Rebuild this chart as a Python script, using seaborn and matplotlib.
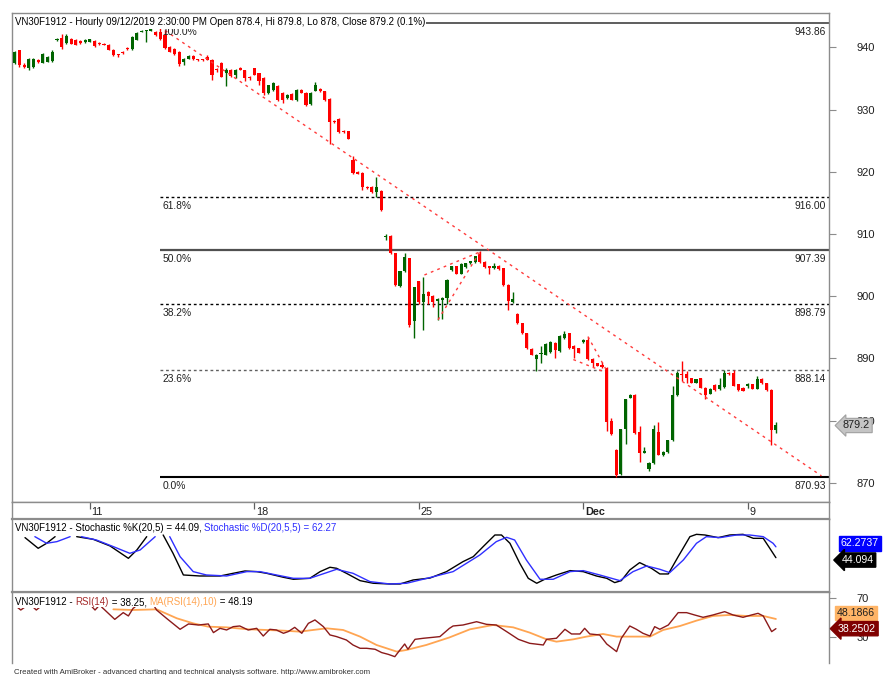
import numpy as np
import pandas as pd
import seaborn as sns
import matplotlib.pyplot as plt

# ---- hourly candles VN30F1912 ----
opens = [937.4, 939.5, 937.2, 936.6, 936.9, 938.0, 937.5, 937.7, 937.8, 941.1,
         941.5, 940.7, 941.4, 941.1, 941.0, 940.8, 940.9, 941.0, 940.7, 940.6,
         940.4, 939.6, 938.9, 939.3, 939.9, 939.7, 941.2, 942.5, 942.6, 942.7,
         942.5, 942.4, 942.0, 940.0, 939.8, 939.3, 937.6, 938.2, 938.6, 938.1,
         938.1, 938.4, 938.0, 936.5, 937.5, 935.9, 936.4, 935.6, 936.7, 936.3,
         935.3, 936.6, 935.8, 935.1, 932.7, 933.2, 933.8, 932.7, 931.9, 932.5,
         931.5, 933.2, 932.7, 930.9, 933.0, 933.3, 932.9, 931.7, 928.2, 928.5,
         926.6, 926.5, 921.9, 920.0, 919.8, 917.6, 917.6, 916.7, 916.9, 909.5,
         909.7, 906.9, 901.7, 904.0, 906.1, 896.0, 902.4, 899.0, 900.6, 900.0,
         899.2, 899.3, 899.7, 904.2, 904.8, 903.6, 904.7, 905.3, 905.5, 906.7,
         905.5, 904.8, 904.5, 904.9, 904.5, 901.8, 899.0, 897.2, 895.6, 894.0,
         891.5, 889.9, 890.7, 890.6, 891.0, 892.5, 891.1, 893.2, 894.0, 892.0,
         891.6, 892.6, 893.0, 889.9, 889.2, 888.9, 888.5, 879.9, 875.2, 871.4,
         878.7, 883.7, 884.1, 878.1, 874.8, 872.2, 873.1, 878.2, 874.4, 874.9,
         876.8, 884.1, 887.5, 887.4, 886.8, 886.1, 886.8, 885.3, 884.3, 885.7,
         885.0, 885.4, 887.7, 887.7, 885.8, 885.3, 885.5, 885.8, 885.1, 886.7,
         886.0, 884.9, 878.4]
highs = [939.4, 939.6, 937.5, 938.3, 938.3, 938.1, 939.1, 938.6, 939.5, 941.5,
         942.2, 942.2, 941.5, 941.3, 941.1, 941.3, 941.4, 941.1, 940.8, 940.7,
         940.5, 939.7, 939.0, 939.4, 940.0, 941.8, 942.4, 942.8, 942.8, 943.1,
         942.7, 943.86, 942.8, 940.2, 939.9, 939.4, 938.3, 938.7, 938.7, 938.2,
         938.2, 938.8, 938.1, 936.7, 937.6, 936.6, 936.5, 936.5, 936.8, 936.4,
         935.4, 936.7, 935.9, 935.2, 934.0, 934.4, 933.9, 932.8, 932.5, 932.6,
         933.3, 933.3, 932.8, 932.8, 934.4, 933.4, 933.0, 931.8, 928.3, 928.6,
         926.7, 926.6, 922.5, 920.1, 919.9, 917.7, 917.7, 919.1, 917.0, 910.0,
         909.8, 907.0, 904.1, 907.0, 906.2, 901.5, 902.5, 903.0, 900.8, 900.1,
         899.7, 899.8, 902.7, 904.9, 904.9, 905.3, 905.4, 905.7, 906.5, 907.2,
         905.6, 904.9, 905.4, 905.0, 904.6, 901.9, 900.6, 897.3, 895.7, 894.1,
         891.6, 890.7, 892.0, 892.4, 892.8, 892.6, 893.7, 894.4, 894.1, 892.1,
         891.7, 893.1, 893.5, 890.0, 889.3, 889.4, 888.6, 880.4, 875.4, 878.7,
         883.5, 884.2, 884.2, 879.1, 875.7, 873.3, 879.2, 879.8, 875.1, 876.9,
         885.6, 888.0, 889.5, 888.0, 886.9, 886.7, 886.9, 885.4, 885.2, 885.8,
         886.9, 888.1, 887.8, 888.2, 885.9, 885.4, 886.0, 885.9, 887.2, 886.8,
         886.1, 885.0, 879.8]
lows = [937.3, 936.9, 936.7, 936.3, 936.7, 937.5, 937.4, 937.6, 937.7, 941.0,
        939.8, 940.6, 940.5, 940.3, 940.6, 940.7, 940.8, 940.1, 940.4, 940.3,
        939.5, 938.6, 938.5, 939.0, 939.5, 939.6, 941.1, 942.4, 940.8, 942.6,
        941.9, 941.2, 939.8, 939.2, 938.7, 937.0, 937.1, 938.1, 938.0, 937.8,
        937.8, 937.9, 934.8, 936.0, 935.2, 933.8, 935.3, 935.0, 936.3, 934.6,
        934.7, 935.5, 933.9, 932.4, 932.5, 933.0, 931.3, 931.0, 931.7, 931.5,
        931.3, 932.6, 930.6, 930.7, 932.9, 932.8, 931.4, 924.5, 927.9, 926.3,
        926.3, 925.2, 919.7, 919.6, 917.0, 917.3, 916.6, 916.0, 913.7, 909.0,
        906.8, 901.6, 901.5, 903.9, 895.0, 893.3, 898.8, 894.6, 898.8, 898.2,
        896.2, 896.3, 898.7, 904.0, 903.5, 903.5, 904.6, 905.2, 905.4, 905.4,
        904.6, 903.5, 904.3, 904.2, 901.7, 897.7, 898.9, 895.5, 893.9, 891.5,
        890.5, 888.0, 889.2, 890.5, 890.9, 890.0, 891.0, 893.1, 891.5, 890.0,
        890.8, 892.5, 889.8, 888.6, 888.7, 888.5, 878.3, 877.7, 870.93, 871.2,
        876.2, 883.6, 877.9, 873.4, 874.7, 871.9, 873.0, 874.4, 874.3, 874.8,
        876.7, 884.0, 886.4, 886.0, 886.0, 886.0, 885.2, 883.5, 884.2, 884.8,
        884.9, 885.3, 887.3, 885.5, 884.8, 884.7, 885.2, 885.0, 885.0, 885.9,
        884.8, 876.0, 878.0]
closes = [939.3, 937.2, 936.8, 938.1, 938.2, 937.6, 939.0, 938.5, 939.3, 941.4,
          940.1, 941.8, 940.6, 940.4, 940.7, 941.2, 941.3, 940.2, 940.5, 940.4,
          939.6, 938.7, 938.7, 939.1, 939.7, 941.7, 942.3, 942.7, 942.7, 942.9,
          942.0, 941.4, 939.9, 939.3, 938.9, 937.3, 938.2, 938.6, 938.1, 937.9,
          937.9, 938.0, 935.6, 936.3, 935.3, 936.4, 935.4, 936.4, 936.4, 935.1,
          935.0, 935.6, 934.6, 932.6, 933.9, 934.3, 931.5, 931.5, 932.4, 931.6,
          933.2, 932.7, 930.8, 932.7, 934.0, 932.9, 931.5, 928.0, 928.0, 926.4,
          926.4, 925.3, 919.8, 919.7, 917.6, 917.4, 916.7, 917.5, 913.9, 909.7,
          906.9, 901.8, 904.0, 906.3, 895.3, 901.4, 899.0, 900.4, 900.0, 899.0,
          899.6, 899.7, 902.6, 904.8, 903.6, 905.2, 905.3, 905.6, 906.4, 905.5,
          904.7, 904.6, 904.9, 904.3, 901.8, 899.2, 899.5, 895.6, 894.0, 891.6,
          890.6, 890.6, 890.9, 892.3, 892.7, 891.4, 893.6, 893.9, 891.6, 891.5,
          890.9, 893.0, 889.9, 889.2, 888.8, 888.6, 879.8, 877.8, 871.3, 878.6,
          883.4, 884.1, 878.0, 874.7, 875.1, 873.2, 878.6, 874.5, 875.0, 876.8,
          884.1, 887.6, 887.3, 886.8, 886.1, 886.6, 885.3, 884.1, 885.1, 884.9,
          885.7, 887.6, 887.4, 885.6, 884.9, 884.8, 885.8, 885.1, 886.7, 886.0,
          884.9, 878.5, 879.2]

date_ticks = [16, 51, 86, 121, 156]
date_labels = ['11', '18', '25', 'Dec', '9']

fib_start = 31
fib_levels = [943.86, 916.00, 907.39, 898.79, 888.14, 870.93]
fib_names = ['100.0%', '61.8%', '50.0%', '38.2%', '23.6%', '0.0%']

# drawn trend lines: (bar, price) -> (bar, price)
trend_lines = [((32, 942.7), (171.7, 871.1)),
               ((87.2, 903.4), (99.0, 907.1)),
               ((90.1, 896.2), (99.0, 907.1)),
               ((122.0, 893.5), (126.0, 888.0)),
               ((118.9, 889.8), (125.2, 887.9))]

# ---- Stochastic (gaps = hidden under the pane title) ----
k_pos = [2.2, 5.0, 6.8, 8.6, None,
         13.2, 16.7, 20.3, 24.2, 26.0, 28.1, None,
         31.6, 33.7, 35.9, 39.4, 43.7, 46.5, 49.0, 51.5, 53.6, 57.2, 59.3, 62.8,
         65.0, 67.1, 68.5, 70.6, 73.5, 76.3, 79.8, 82.0, 84.8, 88.4, 91.9, 95.4,
         97.6, 99.7, 102.2, 103.6, 105.4, 107.5, 109.3, 111.1, 112.8, 115.3,
         118.2, 121.0, 123.8, 126.0, 127.7, 129.1, 130.9, 133.0, 135.5, 137.3,
         139.1, 141.2, 143.7, 145.1, 146.9, 149.7, 152.2, 155.0, 157.2, 159.3,
         160.7, 162.0]
k_val = [77.7, 59.8, 68.2, 79.3, None,
         79.3, 74.9, 63.7, 43.0, 57.0, 79.3, None,
         82.1, 51.4, 15.1, 13.4, 13.4, 17.9, 21.8, 20.7, 17.9, 11.2, 7.9, 9.5,
         20.7, 28.0, 26.3, 17.9, 5.6, 1.2, 0.0, 0.0, 6.7, 10.0, 20.7, 37.4,
         45.8, 62.6, 82.1, 82.1, 68.2, 34.6, 9.5, 1.2, 7.9, 15.1,
         22.4, 20.7, 13.4, 9.5, 2.3, 5.6, 23.5, 35.8, 26.3, 16.8,
         16.8, 45.8, 79.3, 83.2, 82.1, 77.7, 82.1, 83.2, 76.5, 76.5,
         59.8, 44.09]
d_pos = [4.3, 6.8, 9.0, 11.8, None,
         14.2, 17.4, 21.0, 24.5, 26.7, 29.9, None,
         33.0, 35.2, 38.0, 40.8, 45.1, 49.4, 52.2, 55.7, 59.3, 62.8, 66.4, 68.5,
         72.0, 75.6, 79.8, 83.4, 88.0, 93.3, 99.0, 102.5, 104.7, 106.4, 108.9,
         111.8, 114.6, 118.2, 121.0, 124.5, 128.8, 131.6, 134.5, 137.3, 139.4,
         142.3, 145.1, 147.2, 150.1, 153.6, 156.4, 159.3, 161.4, 162.0]
d_val = [79.3, 68.2, 71.0, 79.3, None,
         79.3, 73.7, 62.6, 51.4, 57.0, 79.3, None,
         79.3, 45.8, 20.7, 15.1, 13.4, 20.7, 20.7, 15.1, 9.5, 9.5, 19.0, 24.6,
         17.9, 4.0, 0.0, 1.2, 10.0, 20.7, 48.6, 71.0, 78.2, 73.7, 40.2,
         7.9, 7.9, 20.7, 22.4, 15.1, 5.6, 20.7, 30.2, 24.6, 19.0,
         40.2, 68.2, 79.3, 77.7, 82.1, 82.1, 79.3, 68.2, 62.27]

# ---- RSI(14) and its 10-bar MA ----
rsi_pos = [0.5, 1.3, 2.2, None, 3.9, 4.6, 5.4, None, 16.5, 17.1, 17.7, None,
           18.5, 21.3, 23.1, 24.2, 25.2, 25.6, None,
           29.8, 30.2, 32.3, 35.2, 37.0, 39.1, 41.2, 42.3, 43.7, 45.1, 46.5,
           47.9, 49.7, 51.5, 52.9, 54.3, 55.7, 57.2, 58.2, 59.6, 61.1, 62.5,
           63.9, 65.7, 67.1, 68.5, 70.6, 72.0, 73.5, 74.9, 76.7, 78.1, 79.5,
           80.9, 82.0, 83.0, 83.7, 85.2, 87.0, 89.1, 90.5, 92.5, 93.3, 95.4,
           98.3, 100.4, 102.5, 104.7, 107.2, 109.6, 112.5, 113.2, 115.3, 117.1,
           118.5, 120.3, 121.3, 122.4, 124.5, 126.0, 128.1, 129.1, 130.9, 132.3,
           133.7, 135.2, 136.2, 137.3, 139.1, 141.2, 143.0, 144.7, 146.5, 148.6,
           151.1, 152.9, 155.0, 156.8, 158.2, 159.3, 161.1, 162.0]
rsi_val = [60.5, 57.4, 60.5, None, 60.5, 57.4, 60.5, None, 60.5, 57.4, 60.5, None,
           60.5, 47.8, 54.7, 51.3, 59.1, 60.5, None,
           60.5, 57.4, 48.9, 37.6, 43.1, 42.0, 43.1, 34.2, 38.6, 36.9, 40.3,
           41.0, 36.9, 38.6, 30.7, 37.6, 36.9, 33.5, 35.2, 39.6, 33.5, 43.7,
           47.2, 40.3, 31.8, 30.1, 26.6, 21.5, 18.1, 18.1, 17.1, 13.7, 11.9,
           9.5, 16.4, 22.5, 17.1, 27.3, 28.4, 29.4, 30.1, 38.5, 41.0, 42.0,
           45.4, 42.7, 42.0, 35.2, 27.3, 23.2, 21.5, 27.3, 28.4, 37.6,
           32.8, 32.8, 38.6, 32.8, 31.8, 22.5, 14.7, 28.4, 41.0, 37.6,
           33.5, 30.7, 40.3, 37.6, 42.0, 54.7, 54.7, 52.3, 49.9, 52.3,
           55.7, 52.3, 49.9, 52.3, 54.0, 51.3, 35.2, 38.25]
ma_pos = [21.0, 25.2, 30.2, 34.5, 38.0, 41.2, 45.1, 49.7, 53.6, 57.2, 60.7,
          63.5, 66.4, 69.9, 73.5, 77.0, 81.3, 83.4, 87.6, 92.5, 96.9, 101.8,
          106.1, 109.6, 113.2, 115.3, 118.9, 121.7, 125.2, 128.1, 130.9, 135.2,
          138.0, 141.6, 145.1, 148.6, 152.2, 155.7, 159.3, 162.0]
ma_val = [58.1, 57.4, 58.1, 48.9, 43.7, 40.3, 39.6, 37.6, 36.9, 36.2, 35.2,
          36.9, 38.6, 36.9, 30.1, 21.5, 14.7, 16.4, 21.5, 29.2, 37.6, 42.0,
          39.6, 34.2, 27.3, 24.9, 27.3, 30.1, 32.8, 30.1, 30.1, 30.1,
          36.9, 41.0, 46.5, 51.3, 52.3, 51.3, 51.3, 48.19]


def segments(pos, val):
    df = pd.DataFrame({'pos': pd.array(pos, dtype='Float64'),
                       'val': pd.array(val, dtype='Float64')}).astype(float)
    df['seg'] = df['pos'].isna().cumsum()
    return df.dropna()


sns.set_theme(style="white")
plt.rcParams['font.family'] = ['Liberation Sans', 'DejaVu Sans']
plt.rcParams['axes.linewidth'] = 1.0

W, H = 883, 675
fig = plt.figure(figsize=(W / 100, H / 100), dpi=100)


def px_axes(x0, y0, x1, y1, **kw):
    return fig.add_axes([x0 / W, 1 - y1 / H, (x1 - x0) / W, (y1 - y0) / H], **kw)


ax_m = px_axes(12, 13.3, 829, 502)
ax_d = px_axes(12, 502, 829, 519, sharex=ax_m)
ax_s = px_axes(12, 519, 829, 591.5, sharex=ax_m)
ax_r = px_axes(12, 591.5, 829, 663, sharex=ax_m)

frame = '#8c8c8c'
for a in (ax_m, ax_d, ax_s, ax_r):
    a.set_facecolor('white')
    for s in a.spines.values():
        s.set_color(frame)
        s.set_linewidth(1.0)
    a.tick_params(axis='x', bottom=False, labelbottom=False)
ax_r.spines['bottom'].set_visible(False)
ax_s.spines['top'].set_linewidth(1.6)
ax_s.spines['bottom'].set_linewidth(1.6)

ax_m.set_xlim(-0.57, 173.3)

TXT = 7.0   # pane titles
LBL = 7.4   # labels on the chart

# ---- candles ----
o = np.array(opens)
h = np.array(highs)
l = np.array(lows)
c = np.array(closes)
idx = np.arange(len(c))
cols = np.where(c >= o, '#006400', '#ff0000')
ax_m.vlines(idx, l, h, colors=cols, linewidth=1.0, zorder=3)
body = np.maximum(np.abs(c - o), 0.15)
ax_m.bar(idx, body, bottom=np.minimum(o, c), width=0.66, color=cols,
         linewidth=0, zorder=3)
ax_m.set_ylim(866.9, 945.47)

# fibonacci levels
fib_styles = [('-', '#505050', 1.3), ((0, (2, 2)), 'black', 1.0),
              ('-', '#505050', 1.6), ((0, (2, 2)), 'black', 1.0),
              ((0, (2, 2)), '#606060', 1.0), ('-', 'black', 1.5)]
for lev, name, (ls, col, lw) in zip(fib_levels, fib_names, fib_styles):
    ax_m.hlines(lev, fib_start, 173.3, colors=col, linestyles=ls,
                linewidth=lw, zorder=2)
    ax_m.annotate(name, xy=(fib_start + 0.5, lev), xytext=(0, -3),
                  textcoords='offset points', ha='left', va='top',
                  fontsize=LBL, color='#202020', zorder=5)
    ax_m.annotate(f'{lev:.2f}', xy=(1, lev), xycoords=ax_m.get_yaxis_transform(),
                  xytext=(-2, -3), textcoords='offset points', ha='right',
                  va='top', fontsize=LBL, color='#202020', zorder=5)

for (x0, y0), (x1, y1) in trend_lines:
    ax_m.plot([x0, x1], [y0, y1], color='#ff3b3b', lw=1.0,
              ls=(0, (2, 3)), zorder=4)

ax_m.yaxis.tick_right()
ax_m.set_yticks(range(870, 941, 10))
ax_m.tick_params(axis='y', length=5, width=0.8, color=frame, pad=15,
                 labelsize=8, labelcolor='#202020')
ax_m.annotate('879.2', xy=(1, closes[-1]), xycoords=ax_m.get_yaxis_transform(),
              xytext=(10, 0), textcoords='offset points', ha='left', va='center',
              fontsize=7.8, color='#202020', annotation_clip=False, zorder=6,
              bbox=dict(boxstyle='larrow,pad=0.2', fc='#c4c4c4', ec='#a0a0a0', lw=0.8))

title_kw = dict(fontsize=TXT, zorder=10, annotation_clip=False)
ax_m.annotate('VN30F1912 - Hourly 09/12/2019 2:30:00 PM Open 878.4, Hi 879.8, '
              'Lo 878, Close 879.2 (0.1%)', xy=(0, 1), xycoords='axes fraction',
              xytext=(2, -3), textcoords='offset points', ha='left', va='top',
              color='black', bbox=dict(fc='white', ec='none', pad=0.8), **title_kw)

# ---- date strip ----
ax_d.set_ylim(0, 1)
ax_d.set_yticks([])
ax_d.vlines(date_ticks, 0.6, 1.0, colors='#606060', linewidth=0.9)
for pos, lab in zip(date_ticks, date_labels):
    ax_d.text(pos + 0.35, 0.42, lab, ha='left', va='center', fontsize=7.8,
              color='#202020', fontweight='bold' if lab == 'Dec' else 'normal')


def multicolor(ax, parts, dy):
    # first piece carries a padded white box; the rest sit flush after it
    t = ax.annotate(parts[0][0], xy=(0, 1), xycoords='axes fraction',
                    xytext=(2, dy), textcoords='offset points', ha='left',
                    va='top', color=parts[0][1],
                    bbox=dict(fc='white', ec='none', pad=0.8), **title_kw)
    for s, col in parts[1:]:
        t = ax.annotate(s, xy=(1, 0), xycoords=t, ha='left', va='bottom',
                        color=col, bbox=dict(fc='white', ec='none', pad=0.0),
                        **title_kw)


# ---- stochastic pane ----
k_df = segments(k_pos, k_val)
d_df = segments(d_pos, d_val)
sns.lineplot(data=k_df, x='pos', y='val', units='seg', estimator=None,
             color='black', lw=1.0, ax=ax_s, zorder=3)
sns.lineplot(data=d_df, x='pos', y='val', units='seg', estimator=None,
             color='#2f2fff', lw=1.0, ax=ax_s, zorder=3)
ax_s.set_ylim(-12.6, 108.9)
ax_s.set_yticks([])
ax_s.set_xlabel('')
ax_s.set_ylabel('')
multicolor(ax_s, [('VN30F1912 - Stochastic %K(20,5) = 44.09, ', 'black'),
                  ('Stochastic %D(20,5,5) = 62.27', '#2f2fff')], -3)
ax_s.annotate('62.2737', xy=(1, 62.27), xycoords=ax_s.get_yaxis_transform(),
              xytext=(8.5, 2.4), textcoords='offset points', ha='left', va='center',
              fontsize=7.6, color='white', annotation_clip=False, zorder=6,
              bbox=dict(boxstyle='square,pad=0.2', fc='#0000ff', ec='#0000ff'))
ax_s.annotate('44.094', xy=(1, 44.09), xycoords=ax_s.get_yaxis_transform(),
              xytext=(9, -1.7), textcoords='offset points', ha='left', va='center',
              fontsize=7.6, color='white', annotation_clip=False, zorder=6,
              bbox=dict(boxstyle='larrow,pad=0.2', fc='black', ec='black'))

# ---- RSI pane ----
r_df = segments(rsi_pos, rsi_val)
m_df = segments(ma_pos, ma_val)
sns.lineplot(data=m_df, x='pos', y='val', units='seg', estimator=None,
             color='#ffa552', lw=1.3, ax=ax_r, zorder=3)
sns.lineplot(data=r_df, x='pos', y='val', units='seg', estimator=None,
             color='#8b1a1a', lw=1.0, ax=ax_r, zorder=3)
ax_r.set_ylim(3.0, 76.4)
ax_r.yaxis.tick_right()
ax_r.set_yticks([30, 70])
ax_r.tick_params(axis='y', length=5, width=0.8, color=frame, pad=15,
                 labelsize=8, labelcolor='#202020')
ax_r.set_xlabel('')
ax_r.set_ylabel('')
multicolor(ax_r, [('VN30F1912 - ', 'black'), ('RSI(14)', '#a52a2a'),
                  (' = 38.25, ', 'black'), ('MA(RSI(14),10)', '#ffa552'),
                  (' = 48.19', 'black')], -4)
ax_r.annotate('48.1866', xy=(1, 48.19), xycoords=ax_r.get_yaxis_transform(),
              xytext=(5.5, 4.3), textcoords='offset points', ha='left', va='center',
              fontsize=7.6, color='#202020', annotation_clip=False, zorder=6,
              bbox=dict(boxstyle='square,pad=0.2', fc='#ffb466', ec='#ffb466'))
ax_r.annotate('38.2502', xy=(1, 38.25), xycoords=ax_r.get_yaxis_transform(),
              xytext=(6.5, 0), textcoords='offset points', ha='left', va='center',
              fontsize=7.6, color='white', annotation_clip=False, zorder=6,
              bbox=dict(boxstyle='larrow,pad=0.2', fc='#7f0000', ec='#7f0000'))
ax_r.set_xlim(-0.57, 173.3)

fig.text(14 / W, 1 - 672 / H, 'Created with AmiBroker - advanced charting and '
         'technical analysis software. http://www.amibroker.com',
         ha='left', va='center', fontsize=5.6, color='#303030')

fig.savefig('out.png', dpi=100)
